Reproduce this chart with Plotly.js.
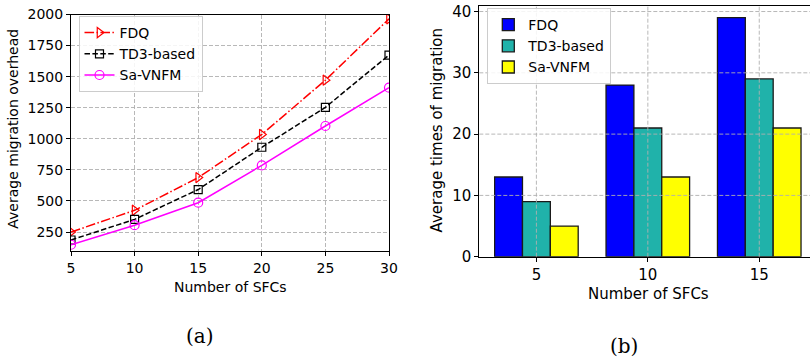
<!DOCTYPE html>
<html>
<head>
<meta charset="utf-8">
<script src="https://cdn.plot.ly/plotly-3.0.1.min.js"></script>
<style>html,body{margin:0;padding:0;background:#fff;}#chart{width:810px;height:359px;}</style>
</head>
<body>
<div id="chart"></div>
<script>
// (a) line chart data
const sfcLine = [5, 10, 15, 20, 25, 30];
const overheadFDQ = [250, 425, 688, 1035, 1472, 1965];
const overheadTD3 = [186, 352, 592, 932, 1253, 1674];
const overheadSa = [148, 305, 486, 786, 1103, 1411];
const lineTicks = [250, 500, 750, 1000, 1250, 1500, 1750, 2000];

// (b) bar chart data
const sfcBar = ['5', '10', '15'];
const timesFDQ = [13, 28, 39];
const timesTD3 = [9, 21, 29];
const timesSa = [5, 13, 21];
const barTicks = [0, 10, 20, 30, 40];

const W = 810, H = 359;
const px = v => v / W;
const py = v => 1 - v / H;

const barIdx = sfcBar.map((c, i) => i);
const gridCol = '#b0b0b0';
const fontA = {family: 'DejaVu Sans', size: 14, color: '#000'};
const fontB = {family: 'DejaVu Sans', size: 15, color: '#000'};

const traces = [
  {x: sfcLine, y: overheadFDQ, name: 'FDQ', type: 'scatter', mode: 'lines+markers',
   xaxis: 'x', yaxis: 'y', legend: 'legend',
   line: {color: '#ff0000', width: 1.5, dash: '9.6px,2.4px,1.5px,2.4px'},
   marker: {symbol: 'triangle-right-open', size: 9, color: '#ff0000', line: {width: 1.2}}},
  {x: sfcLine, y: overheadTD3, name: 'TD3-based', type: 'scatter', mode: 'lines+markers',
   xaxis: 'x', yaxis: 'y', legend: 'legend',
   line: {color: '#000000', width: 1.5, dash: '5.5px,2.4px'},
   marker: {symbol: 'square-open', size: 8, color: '#000000', line: {width: 1.2}}},
  {x: sfcLine, y: overheadSa, name: 'Sa-VNFM', type: 'scatter', mode: 'lines+markers',
   xaxis: 'x', yaxis: 'y', legend: 'legend',
   line: {color: '#ff00ff', width: 1.5},
   marker: {symbol: 'circle-open', size: 9, color: '#ff00ff', line: {width: 1.2}}},
  {x: barIdx, y: timesFDQ, name: 'FDQ', type: 'bar', xaxis: 'x2', yaxis: 'y2', legend: 'legend2',
   marker: {color: '#0000ff', line: {color: '#1a1a1a', width: 1.3}}},
  {x: barIdx, y: timesTD3, name: 'TD3-based', type: 'bar', xaxis: 'x2', yaxis: 'y2', legend: 'legend2',
   marker: {color: '#20b2aa', line: {color: '#1a1a1a', width: 1.3}}},
  {x: barIdx, y: timesSa, name: 'Sa-VNFM', type: 'bar', xaxis: 'x2', yaxis: 'y2', legend: 'legend2',
   marker: {color: '#ffff00', line: {color: '#1a1a1a', width: 1.3}}}
];

// grid lines for bar chart (drawn above bars like the reference)
const shapes = [];
barIdx.forEach(i => shapes.push({type: 'line', xref: 'x2', yref: 'y2 domain', x0: i, x1: i, y0: 0, y1: 1,
  layer: 'above', line: {color: gridCol, width: 0.9, dash: '4px,2px'}}));
barTicks.filter(t => t > 0).forEach(t => shapes.push({type: 'line', xref: 'x2 domain', yref: 'y2', x0: 0, x1: 1, y0: t, y1: t,
  layer: 'above', line: {color: gridCol, width: 0.9, dash: '4px,2px'}}));

const axisCommon = {showline: true, linecolor: '#000', linewidth: 1, ticks: 'outside', ticklen: 4,
  tickcolor: '#000', tickwidth: 1, zeroline: false};

const layout = {
  width: W, height: H,
  margin: {l: 0, r: 0, t: 0, b: 0},
  paper_bgcolor: '#fff', plot_bgcolor: '#fff',
  barmode: 'group', bargap: 0.25, bargroupgap: 0,
  xaxis: Object.assign({}, axisCommon, {domain: [px(71), px(389)], range: [5, 30],
    tickvals: sfcLine, tickfont: fontA, mirror: true, showgrid: true, gridcolor: gridCol,
    griddash: '4px,2px', gridwidth: 0.9, anchor: 'y'}),
  yaxis: Object.assign({}, axisCommon, {domain: [py(250.7), py(14.5)], range: [100, 2000],
    tickvals: lineTicks, tickfont: fontA, mirror: true, showgrid: true, gridcolor: gridCol,
    griddash: '4px,2px', gridwidth: 0.9, anchor: 'x'}),
  xaxis2: Object.assign({}, axisCommon, {domain: [px(479.3), 1], range: [-0.5125, 2.4555],
    tickvals: barIdx, ticktext: sfcBar, tickfont: fontB, mirror: true, showgrid: false, anchor: 'y2'}),
  yaxis2: Object.assign({}, axisCommon, {domain: [py(256.7), py(5.7)], range: [0, 40.95],
    tickvals: barTicks, tickfont: fontB, mirror: false, showgrid: false, anchor: 'x2'}),
  legend: {x: px(78.5), y: py(16), xanchor: 'left', yanchor: 'top', bgcolor: 'rgba(255,255,255,0.85)',
    bordercolor: '#cccccc', borderwidth: 1, font: {family: 'DejaVu Sans', size: 14, color: '#000'},
    tracegroupgap: 0, itemwidth: 30},
  legend2: {x: px(487.3), y: py(8), xanchor: 'left', yanchor: 'top', bgcolor: 'rgba(255,255,255,0.85)',
    bordercolor: '#cccccc', borderwidth: 1, font: {family: 'DejaVu Sans', size: 14, color: '#000'},
    tracegroupgap: 0, itemwidth: 30},
  shapes: shapes,
  annotations: [
    {text: 'Average migration overhead', xref: 'paper', yref: 'paper', x: px(12.7), y: py(129),
     textangle: -90, showarrow: false, xanchor: 'center', yanchor: 'middle', font: fontA},
    {text: 'Number of SFCs', xref: 'paper', yref: 'paper', x: px(230), y: py(287),
     showarrow: false, xanchor: 'center', yanchor: 'middle', font: fontA},
    {text: 'Average times of migration', xref: 'paper', yref: 'paper', x: px(436.7), y: py(130.7),
     textangle: -90, showarrow: false, xanchor: 'center', yanchor: 'middle', font: fontB},
    {text: 'Number of SFCs', xref: 'paper', yref: 'paper', x: px(648), y: py(294),
     showarrow: false, xanchor: 'center', yanchor: 'middle', font: fontB},
    {text: '(a)', xref: 'paper', yref: 'paper', x: px(200), y: py(336),
     showarrow: false, xanchor: 'center', yanchor: 'middle', font: {family: 'DejaVu Serif', size: 20, color: '#000'}},
    {text: '(b)', xref: 'paper', yref: 'paper', x: px(624), y: py(346),
     showarrow: false, xanchor: 'center', yanchor: 'middle', font: {family: 'DejaVu Serif', size: 20, color: '#000'}}
  ],
  showlegend: true
};

Plotly.newPlot('chart', traces, layout, {staticPlot: true, displayModeBar: false});
</script>
</body>
</html>
